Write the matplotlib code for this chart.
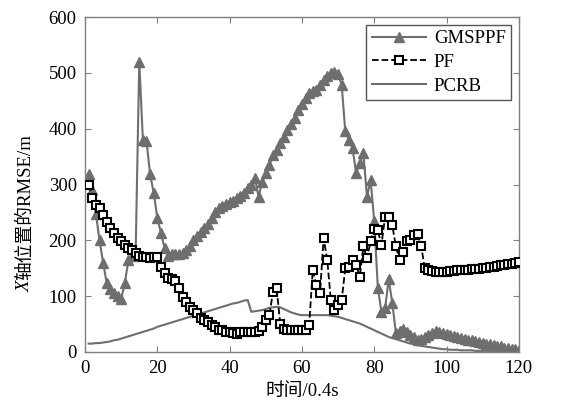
import matplotlib
matplotlib.use("Agg")
import matplotlib.pyplot as plt
import numpy as np

plt.rcParams['font.family'] = ['Liberation Serif', 'Noto Sans CJK SC']

# time steps (x 0.4 s)
t = np.arange(1, 121)

gmsppf = [
    318, 290, 248, 200, 160, 123, 112, 105, 100, 95,
    123, 165, 172, 178, 520, 380, 378, 318, 285, 240,
    213, 186, 172, 175, 175, 175, 178, 182, 190, 200,
    207, 215, 222, 230, 240, 250, 258, 262, 265, 268,
    270, 275, 280, 285, 293, 300, 312, 278, 305, 320,
    335, 352, 362, 375, 385, 397, 408, 420, 433, 445,
    455, 463, 467, 470, 478, 488, 495, 500, 502, 498,
    478, 395, 380, 365, 320, 338, 356, 278, 308, 235,
    115, 72, 78, 130, 88, 34, 38, 42, 36, 30,
    27, 22, 24, 26, 30, 34, 38, 36, 34, 32,
    30, 28, 27, 25, 24, 22, 21, 19, 18, 16,
    15, 14, 12, 11, 10, 8, 7, 6, 5, 4,
]

pf = [
    300, 276, 263, 258, 245, 233, 222, 213, 204, 198,
    192, 186, 182, 178, 172, 170, 170, 168, 170, 170,
    153, 141, 132, 130, 128, 114, 99, 90, 81, 75,
    70, 61, 57, 54, 48, 45, 40, 39, 36, 35,
    34, 33, 35, 35, 36, 36, 36, 37, 45, 57,
    66, 108, 114, 51, 42, 40, 39, 39, 39, 39,
    40, 48, 147, 120, 105, 204, 165, 93, 75, 84,
    93, 150, 152, 165, 156, 135, 189, 168, 198, 221,
    218, 192, 242, 242, 227, 189, 165, 180, 198, 200,
    210, 212, 189, 150, 146, 145, 144, 144, 144, 144,
    145, 145, 146, 146, 147, 147, 148, 148, 149, 150,
    151, 152, 153, 154, 155, 156, 157, 158, 160, 161,
]

pcrb = [
    15, 15, 16, 16, 17, 18, 19, 21, 22, 24,
    26, 28, 30, 32, 34, 36, 38, 40, 42, 45,
    47, 49, 51, 53, 55, 57, 59, 61, 63, 65,
    67, 69, 71, 73, 75, 77, 79, 81, 83, 85,
    87, 88, 90, 92, 93, 72, 73, 74, 75, 77,
    79, 80, 81, 80, 77, 74, 71, 69, 67, 66,
    66, 66, 66, 66, 66, 66, 66, 65, 64, 63,
    61, 59, 57, 55, 53, 51, 48, 45, 42, 39,
    36, 33, 30, 27, 25, 23, 21, 19, 17, 15,
    14, 12, 11, 10, 9, 8, 7, 6, 5, 5,
    4, 4, 4, 3, 3, 3, 3, 2, 2, 2,
    2, 2, 2, 1, 1, 1, 1, 1, 1, 1,
]

GRAY = "#6e6e6e"
FS = 13.5

fig = plt.figure(figsize=(5.67, 4.0), dpi=100)
ax = fig.add_axes([0.150, 0.12, 0.765, 0.8375])

ax.plot(t, gmsppf, color=GRAY, lw=1.5, marker='^', ms=6.5,
        mfc=GRAY, mec=GRAY, label='GMSPPF', zorder=2)
ax.plot(t, pf, color='black', lw=1.3, ls='--', marker='s', ms=5.5,
        mfc='white', mec='black', mew=1.5, label='PF', zorder=3)
ax.plot(t, pcrb, color=GRAY, lw=1.5, label='PCRB', zorder=1)

ax.set_xlim(0, 120)
ax.set_ylim(0, 600)
ax.set_xticks(range(0, 121, 20))
ax.set_yticks(range(0, 601, 100))
ax.tick_params(direction='in', top=True, right=True, length=4,
               color='#808080', labelsize=FS, pad=6)
for s in ax.spines.values():
    s.set_color('#808080')
    s.set_linewidth(1.0)

ax.set_xlabel('时间/0.4s', fontsize=FS, labelpad=4)

# y label: italic X followed by the rest
tx = fig.text(0.045, 0.27, 'X', rotation=90, style='italic', fontsize=FS,
              ha='center', va='bottom')
ax.annotate('轴位置的RMSE/m', xy=(0.5, 1.0), xycoords=tx, rotation=90,
            fontsize=FS, ha='center', va='bottom')

leg = ax.legend(loc='upper right', fontsize=FS, fancybox=False,
                edgecolor='#555555', framealpha=1, handlelength=2.9,
                borderaxespad=0.4, labelspacing=0.35, handletextpad=0.4,
                borderpad=0.3)
leg.get_frame().set_linewidth(1.0)

fig.savefig('out.png', dpi=100, facecolor='white')
